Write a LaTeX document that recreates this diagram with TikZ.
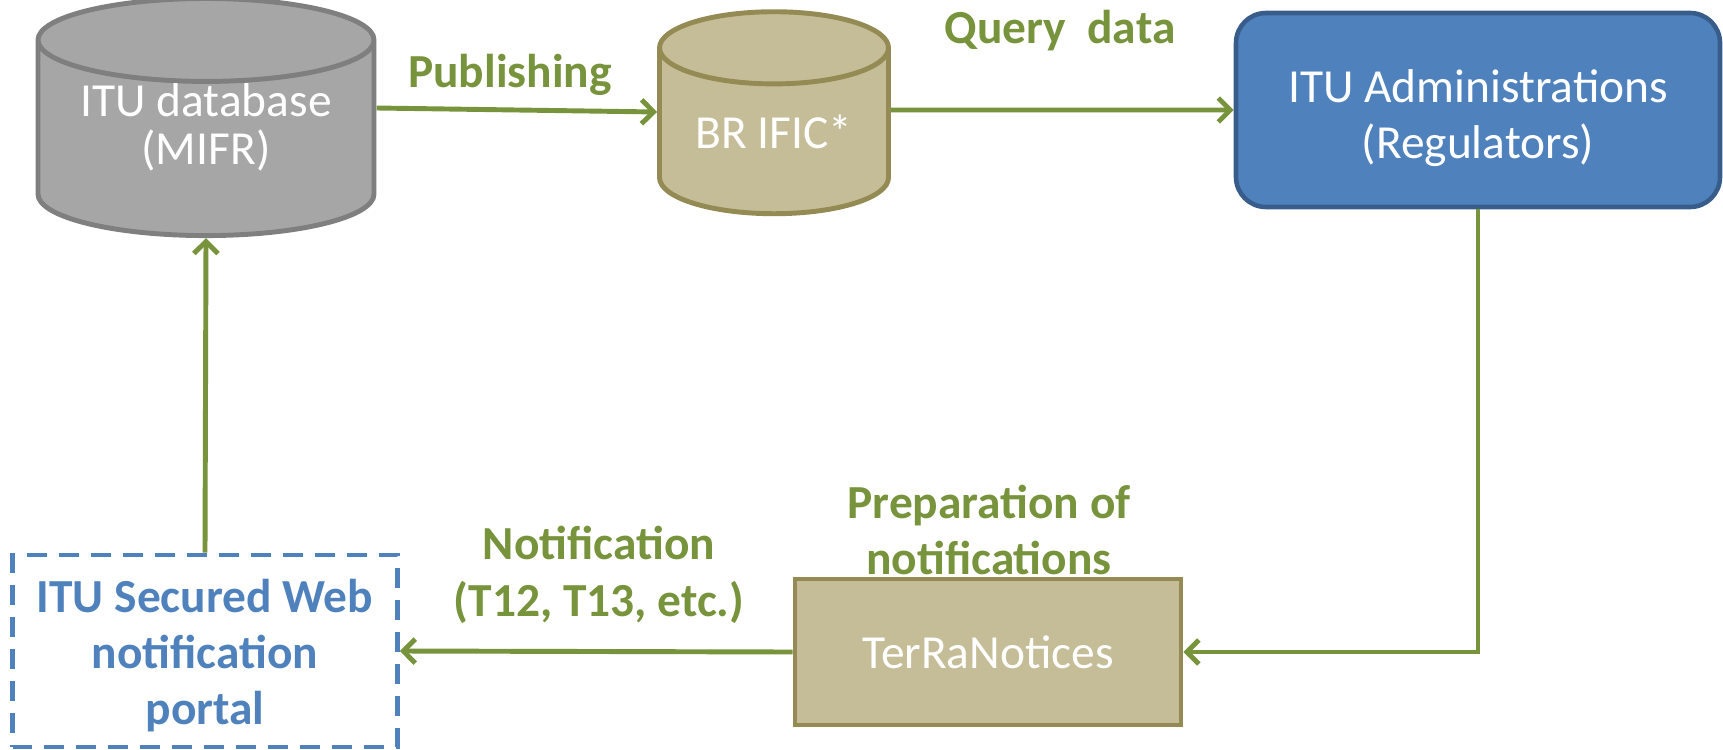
\documentclass[tikz,border=0pt]{standalone}
\usepackage{fontspec}
\setmainfont{Carlito}
\usetikzlibrary{arrows.meta, positioning, shapes.geometric}
\definecolor{flowgreen}{HTML}{77933C}
\definecolor{dbgray}{HTML}{A6A6A6}
\definecolor{dbedge}{HTML}{7F7F7F}
\definecolor{tan}{HTML}{C4BD97}
\definecolor{tanedge}{HTML}{948A54}
\definecolor{admblue}{HTML}{4F81BD}
\definecolor{admedge}{HTML}{385D8A}
\tikzset{%
  big/.style={font=\fontsize{27}{32}\selectfont},
  store/.style={cylinder, shape border rotate=90, draw, line width=2.8pt,
    cylinder uses custom fill, text=white, align=center, big, inner sep=0pt},
  box/.style={rectangle, draw, line width=2.6pt, text=white, align=center, big},
  tag/.style={text=flowgreen, align=center, font=\bfseries\fontsize{27}{32}\selectfont},
  flow/.style={draw=flowgreen, line width=2.8pt,
    -{Straight Barb[length=2.4mm, width=4.8mm, line width=2.8pt]}}
}
\begin{document}
\begin{tikzpicture}[x=0.02cm, y=-0.02cm]
  \useasboundingbox (0,0) rectangle (1723,750);

  \node[store, draw=dbedge, cylinder body fill=dbgray, cylinder end fill=dbgray,
    font=\fontsize{27}{27}\selectfont,
    aspect=0.33, minimum width=336*0.02cm, minimum height=198*0.02cm] (db) at (206,139)
    {ITU database\\(MIFR)\rule[-17pt]{0pt}{17pt}};
  \node[store, draw=tanedge, cylinder body fill=tan, cylinder end fill=tan,
    aspect=0.46, minimum width=229*0.02cm, minimum height=202*0.02cm] (ific) at (774,132)
    {BR IFIC*};
  \node[box, draw=admedge, fill=admblue, rounded corners=0.6cm,
    minimum width=484*0.02cm, minimum height=194*0.02cm] (admin) at (1478,110)
    {\rule{0pt}{28pt}ITU Administrations\\(Regulators)};
  \node[box, draw=tanedge, fill=tan,
    minimum width=386*0.02cm, minimum height=146*0.02cm] (terra) at (988,652)
    {TerRaNotices};
  \node[box, draw=admblue, fill=none, text=admblue, dash pattern=on 0.4cm off 0.24cm,
    font=\bfseries\fontsize{27}{32}\selectfont,
    minimum width=385*0.02cm, minimum height=192*0.02cm] (portal) at (205,651)
    {\rule{0pt}{24pt}ITU Secured Web\\notification\\portal};

  \node[tag] (publish) at (510,75) {Publishing};
  \node[tag] (query) at (1060,31) {Query\ \ data};
  \node[tag] (prep) at (989,530) {Preparation of\\notifications};
  \node[tag] (notif) at (599,575) {Notification\\(T12, T13, etc.)};

  \draw[flow] ([yshift=0.62cm]db.east) -- ([yshift=0.4cm]ific.west);
  \draw[flow] ([yshift=0.44cm]ific.east) -- (admin.west);
  \draw[flow] (admin.south) |- (terra.east);
  \draw[flow] (terra.west) -- (portal.east);
  \draw[flow] (portal.north) -- (db.south);
\end{tikzpicture}
\end{document}
